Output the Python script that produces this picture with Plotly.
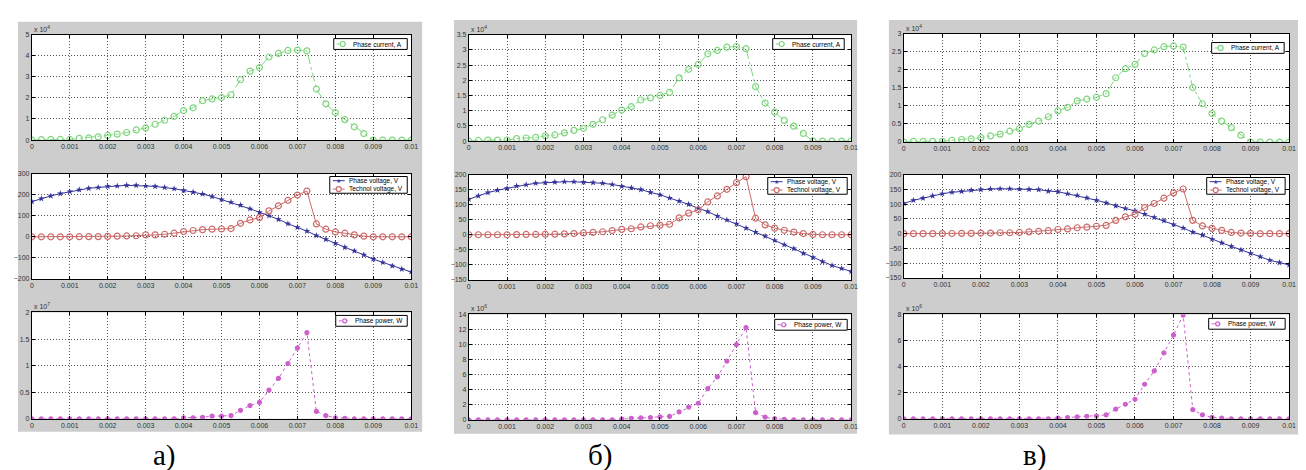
import plotly.graph_objects as go

W, H = 1306, 470

# time axis (s)
t = [0, 0.00025, 0.0005, 0.00075, 0.001, 0.00125, 0.0015, 0.00175, 0.002, 0.00225,
     0.0025, 0.00275, 0.003, 0.00325, 0.0035, 0.00375, 0.004, 0.00425, 0.0045, 0.00475,
     0.005, 0.00525, 0.0055, 0.00575, 0.006, 0.00625, 0.0065, 0.00675, 0.007, 0.00725,
     0.0075, 0.00775, 0.008, 0.00825, 0.0085, 0.00875, 0.009, 0.00925, 0.0095, 0.00975, 0.01]

x_tickvals = [0, 0.001, 0.002, 0.003, 0.004, 0.005, 0.006, 0.007, 0.008, 0.009, 0.01]
x_ticktext = ["0", "0.001", "0.002", "0.003", "0.004", "0.005", "0.006", "0.007", "0.008", "0.009", "0.01"]

# ---- panel а ----
a_current = [0, 0.02, 0.03, 0.03, 0.03, 0.08, 0.1, 0.15, 0.22, 0.28,
             0.36, 0.48, 0.58, 0.75, 0.94, 1.12, 1.4, 1.53, 1.87, 1.95,
             2.02, 2.15, 2.86, 3.27, 3.44, 3.94, 4.11, 4.25, 4.27, 4.23,
             2.42, 1.72, 1.3, 0.97, 0.63, 0.31, 0, 0, 0, 0, 0]          # x 10^4 A
a_phase_v = [167, 181, 194, 205, 214, 223, 230, 234, 239, 241,
             244, 244, 241, 239, 234, 228, 220, 212, 203, 191,
             177, 164, 150, 133, 116, 100, 83, 62, 45, 27,
             6, -12, -31, -50, -67, -86, -106, -122, -138, -153, -167]
a_tech_v = [0, 0, 0, 0, 0, 0.5, 1, 1, 2, 3,
            4, 5, 9, 9, 12, 17, 25, 30, 34, 36,
            37, 39, 64, 80, 91, 123, 147, 173, 198, 217,
            61, 36, 23, 17, 9, 3, 0, 0, 0, 0, 0]
a_power = [0, 0, 0, 0, 0, 0, 0, 0, 0, 0,
           0, 0, 0, 0, 0, 0, 0.02, 0.02, 0.03, 0.05,
           0.05, 0.06, 0.16, 0.25, 0.31, 0.54, 0.76, 1.04, 1.33, 1.62,
           0.14, 0.06, 0.02, 0.01, 0, 0, 0, 0, 0, 0, 0]                   # x 10^7 W

# ---- panel б ----
b_current = [0, 0.02, 0.03, 0.03, 0.03, 0.08, 0.1, 0.12, 0.17, 0.2,
             0.27, 0.35, 0.42, 0.55, 0.7, 0.85, 1.02, 1.13, 1.35, 1.42,
             1.5, 1.6, 2.08, 2.36, 2.52, 2.87, 2.98, 3.09, 3.11, 3.04,
             1.79, 1.25, 0.95, 0.68, 0.49, 0.25, 0, 0, 0, 0, 0]
b_phase_v = [118, 129, 140, 148, 154, 162, 166, 171, 173, 175,
             176, 176, 175, 173, 171, 167, 161, 156, 150, 141,
             133, 122, 112, 101, 88, 77, 62, 49, 36, 22,
             9, -5, -19, -33, -46, -62, -75, -89, -102, -112, -122]
b_tech_v = [0, 0, 0, 0, 0, 0.5, 1, 1, 2, 2,
            3, 4, 6, 8, 10, 14, 18, 20, 26, 30,
            32, 35, 56, 72, 83, 109, 129, 151, 173, 193,
            55, 33, 22, 15, 9, 4, 1, 0, 0, 0, 0]
b_power = [0, 0, 0, 0, 0, 0, 0, 0, 0, 0,
           0, 0, 0, 0, 0, 0, 0.1, 0.2, 0.25, 0.3,
           0.4, 0.45, 1.05, 1.7, 2.2, 4.15, 5.7, 7.8, 10.0, 12.25,
           0.96, 0.35, 0.15, 0.05, 0, 0, 0, 0, 0, 0, 0]                    # x 10^6 W

# ---- panel в ----
c_current = [0, 0.02, 0.02, 0.02, 0.02, 0.05, 0.07, 0.09, 0.12, 0.17,
             0.22, 0.3, 0.37, 0.49, 0.58, 0.7, 0.86, 0.96, 1.14, 1.19,
             1.24, 1.34, 1.78, 2.03, 2.15, 2.45, 2.55, 2.64, 2.66, 2.63,
             1.51, 1.06, 0.79, 0.58, 0.4, 0.19, 0, 0, 0, 0, 0]
c_phase_v = [102, 113, 120, 128, 135, 140, 143, 147, 149, 151,
             152, 152, 151, 150, 149, 144, 142, 135, 129, 121,
             113, 104, 94, 85, 77, 66, 55, 44, 31, 19,
             5, -5, -19, -31, -43, -55, -67, -78, -90, -98, -106]
c_tech_v = [0, 0, 0, 0, 0, 0.5, 1, 1, 2, 2,
            3, 3, 4, 6, 8, 10, 14, 16, 20, 22,
            25, 28, 45, 57, 66, 88, 102, 120, 138, 151,
            45, 26, 18, 11, 4, 2, 1, 0, 0, 0, 0]
c_power = [0, 0, 0, 0, 0, 0, 0, 0, 0, 0,
           0, 0, 0, 0, 0, 0, 0.05, 0.1, 0.15, 0.2,
           0.22, 0.3, 0.75, 1.12, 1.5, 2.65, 3.67, 5.05, 6.42, 7.95,
           0.7, 0.3, 0.12, 0.05, 0, 0, 0, 0, 0, 0, 0]

panel_labels = ["а)", "б)", "в)"]
current_exp = ["4", "4", "4"]
power_exp = ["7", "6", "6"]

current_ticks = [[0, 1, 2, 3, 4, 5], [0, 0.5, 1, 1.5, 2, 2.5, 3, 3.5], [0, 0.5, 1, 1.5, 2, 2.5, 3]]
voltage_ticks = [[-200, -100, 0, 100, 200, 300], [-150, -100, -50, 0, 50, 100, 150, 200],
                 [-150, -100, -50, 0, 50, 100, 150, 200]]
power_ticks = [[0, 0.5, 1, 1.5, 2], [0, 2, 4, 6, 8, 10, 12, 14], [0, 2, 4, 6, 8]]

currents = [a_current, b_current, c_current]
phase_vs = [a_phase_v, b_phase_v, c_phase_v]
tech_vs = [a_tech_v, b_tech_v, c_tech_v]
powers = [a_power, b_power, c_power]

NAME_I = "Phase current, A"
NAME_UP = "Phase voltage, V"
NAME_UT = "Technol voltage, V"
NAME_P = "Phase power, W"

# pixel geometry (layout only)
gray_boxes = [(8, 10, 415, 426), (447, 8, 853, 428), (885, 8, 1303, 429)]
plot_x = [(22, 404), (462, 847), (900, 1288)]
rows = [[(23, 130), (164, 271), (305, 413)],
        [(23, 131), (165, 272), (307, 414)],
        [(22, 132), (165, 270), (307, 413)]]
legend_boxes = [[(326, 27, 400, 38), (322, 167, 400, 184), (328, 308, 400, 319)],
                [(768, 27, 840, 38), (763, 168, 843, 185), (770, 312, 843, 323)],
                [(1210, 31, 1283, 42), (1205, 168, 1284, 185), (1207, 311, 1284, 322)]]
label_x = [156, 594, 1032]

GREEN = "#7fd67f"
BLUE = "#34349a"
RED = "#cc6a6a"
MAG = "#cc5fcc"
TICKFONT = dict(family="Liberation Sans, Arial, sans-serif", size=7, color="#333333")
GRID = "#555555"

STYLE = {
    NAME_I: dict(color=GREEN, dash="dashdot", symbol="circle-open"),
    NAME_UP: dict(color=BLUE, dash="solid", symbol="star"),
    NAME_UT: dict(color=RED, dash="solid", symbol="circle-open"),
    NAME_P: dict(color=MAG, dash="dot", symbol="circle-dot"),
}

fig = go.Figure()
shapes = []
annotations = []
layout = dict(width=W, height=H, margin=dict(l=0, r=0, t=0, b=0), showlegend=False,
              paper_bgcolor="white", plot_bgcolor="white")


def fx(px):
    return px / W


def fy(py):
    return 1 - py / H


def add_trace(name, y, xref, yref):
    st = STYLE[name]
    if st["symbol"] == "star":
        mk = dict(symbol="star", size=5, color=st["color"])
    elif st["symbol"] == "circle-dot":
        mk = dict(symbol="circle-dot", size=4, color=st["color"], line=dict(width=1.2, color=st["color"]))
    else:
        mk = dict(symbol="circle-open", size=6, color=st["color"], line=dict(width=1.2, color=st["color"]))
    fig.add_trace(go.Scatter(x=t, y=y, mode="lines+markers", name=name,
                             line=dict(color=st["color"], width=1, dash=st["dash"]),
                             marker=mk, xaxis=xref, yaxis=yref, showlegend=False,
                             hoverinfo="x+y+name"))


def draw_legend(box, names):
    x0, y0, x1, y1 = box
    shapes.append(dict(type="rect", xref="paper", yref="paper", x0=fx(x0), x1=fx(x1), y0=fy(y1), y1=fy(y0),
                       fillcolor="white", line=dict(color="black", width=1), layer="above"))
    n = len(names)
    rowh = (y1 - y0) / n
    for i, name in enumerate(names):
        st = STYLE[name]
        cy = y0 + rowh * (i + 0.5)
        shapes.append(dict(type="line", xref="paper", yref="paper", x0=fx(x0 + 3), x1=fx(x0 + 15),
                           y0=fy(cy), y1=fy(cy), line=dict(color=st["color"], width=1, dash=st["dash"]),
                           layer="above"))
        if st["symbol"] == "star":
            annotations.append(dict(xref="paper", yref="paper", x=fx(x0 + 9), y=fy(cy), text="★",
                                    showarrow=False, xanchor="center", yanchor="middle",
                                    font=dict(size=6, color=st["color"]), borderpad=0))
        else:
            r = 2.5 if st["symbol"] == "circle-open" else 2
            shapes.append(dict(type="circle", xref="paper", yref="paper", xsizemode="pixel",
                               ysizemode="pixel", xanchor=fx(x0 + 9), yanchor=fy(cy),
                               x0=-r, x1=r, y0=-r, y1=r, fillcolor="white",
                               line=dict(color=st["color"], width=1.2), layer="above"))
        annotations.append(dict(xref="paper", yref="paper", x=fx(x0 + 18), y=fy(cy), text=name,
                                showarrow=False, xanchor="left", yanchor="middle", borderpad=0,
                                font=dict(family="Liberation Sans, Arial, sans-serif", size=6.5,
                                          color="black")))


for p in range(3):
    x0, y0, x1, y1 = gray_boxes[p]
    shapes.append(dict(type="rect", xref="paper", yref="paper", x0=fx(x0), x1=fx(x1),
                       y0=fy(y1), y1=fy(y0), fillcolor="#cdcdcd", line=dict(width=0),
                       layer="below"))
    annotations.append(dict(xref="paper", yref="paper", x=fx(label_x[p]), y=fy(450),
                            text=panel_labels[p], showarrow=False, xanchor="center",
                            yanchor="middle", borderpad=0,
                            font=dict(family="Liberation Serif, Times New Roman, serif",
                                      size=29, color="black")))
    for r in range(3):
        idx = p * 3 + r + 1
        xa = "xaxis" if idx == 1 else f"xaxis{idx}"
        ya = "yaxis" if idx == 1 else f"yaxis{idx}"
        xref = "x" if idx == 1 else f"x{idx}"
        yref = "y" if idx == 1 else f"y{idx}"
        top, bot = rows[p][r]
        px0, px1 = plot_x[p]
        # white plot area above the gray panel
        shapes.append(dict(type="rect", xref="paper", yref="paper", x0=fx(px0), x1=fx(px1),
                           y0=fy(bot), y1=fy(top), fillcolor="white", line=dict(width=0),
                           layer="below"))
        if r == 0:
            yt = current_ticks[p]
        elif r == 1:
            yt = voltage_ticks[p]
        else:
            yt = power_ticks[p]
        axis_common = dict(showgrid=True, gridcolor=GRID, griddash="1px,2px", gridwidth=1,
                           showline=True, mirror="ticks", linecolor="black", linewidth=1,
                           ticks="inside", ticklen=3, tickcolor="black", tickfont=TICKFONT,
                           zeroline=False, fixedrange=True)
        layout[xa] = dict(domain=[fx(px0), fx(px1)], anchor=yref, range=[0, 0.01],
                          tickvals=x_tickvals, ticktext=x_ticktext, **axis_common)
        layout[ya] = dict(domain=[fy(bot), fy(top)], anchor=xref, range=[yt[0], yt[-1]],
                          tickvals=yt, **axis_common)
        if r == 0:
            add_trace(NAME_I, currents[p], xref, yref)
            draw_legend(legend_boxes[p][r], [NAME_I])
            annotations.append(dict(xref="paper", yref="paper", x=fx(px0 + 1), y=fy(top - 1),
                                    xanchor="left", yanchor="bottom", borderpad=0,
                                    text=f"x 10<sup>{current_exp[p]}</sup>", showarrow=False,
                                    font=TICKFONT))
        elif r == 1:
            add_trace(NAME_UP, phase_vs[p], xref, yref)
            add_trace(NAME_UT, tech_vs[p], xref, yref)
            draw_legend(legend_boxes[p][r], [NAME_UP, NAME_UT])
        else:
            add_trace(NAME_P, powers[p], xref, yref)
            draw_legend(legend_boxes[p][r], [NAME_P])
            annotations.append(dict(xref="paper", yref="paper", x=fx(px0 + 1), y=fy(top - 1),
                                    xanchor="left", yanchor="bottom", borderpad=0,
                                    text=f"x 10<sup>{power_exp[p]}</sup>", showarrow=False,
                                    font=TICKFONT))

layout["shapes"] = shapes
layout["annotations"] = annotations
fig.update_layout(**layout)
fig.write_html("out.html")
